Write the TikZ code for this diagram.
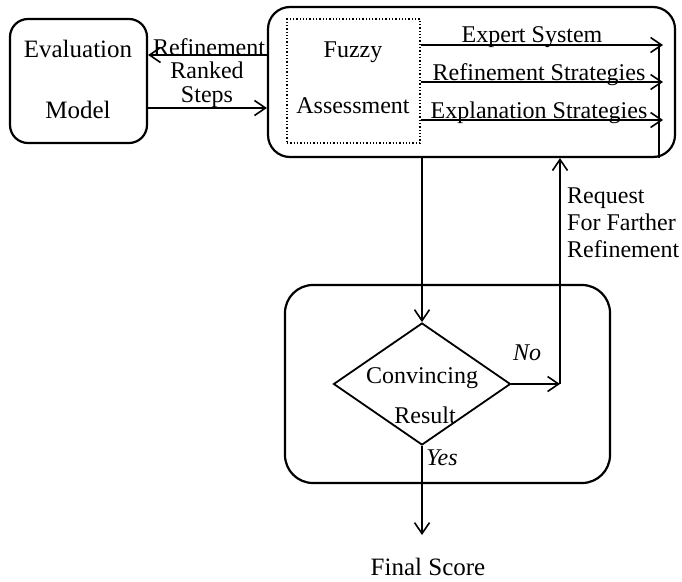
\documentclass[tikz,border=0pt]{standalone}
\usepackage{fontspec}
\setmainfont{Liberation Serif}
\usetikzlibrary{arrows.meta,shapes.geometric}
\begin{document}
\begin{tikzpicture}[x=1pt,y=-1pt,
  box/.style={draw, line width=2.2pt, inner sep=0pt},
  lbl/.style={font=\fontsize{24}{28}\selectfont, inner sep=0pt, anchor=base},
  biglbl/.style={lbl, font=\fontsize{25}{29}\selectfont},
  flow/.style={line width=1.6pt, -{Straight Barb[length=11pt,width=15pt]}},
  plain/.style={line width=1.6pt},
]
\useasboundingbox (0,0) rectangle (682,581);

% boxes
\node[box, rounded corners=18pt, minimum width=137pt, minimum height=124pt] (eval) at (78.5,81) {};
\node[box, rounded corners=22pt, minimum width=407pt, minimum height=150pt] (top) at (471.5,82) {};
\node[draw, dotted, line width=1.3pt, inner sep=0pt, minimum width=133pt, minimum height=124pt] (fz) at (353.5,81) {};
\node[box, rounded corners=28pt, minimum width=325pt, minimum height=198pt] (bot) at (447.5,384) {};
\node[draw, diamond, line width=1.8pt, inner sep=0pt, minimum width=177pt, minimum height=122pt] (dia) at (422,384) {};

% texts
\node[biglbl] (tEval) at (78,57) {Evaluation};
\node[biglbl] (tModel) at (78,118) {Model};
\node[lbl] (tRef) at (209,55.5) {Refinement};
\node[lbl] (tRank) at (207,78.5) {Ranked};
\node[lbl] (tSteps) at (207,102) {Steps};
\node[lbl] (tFuzzy) at (353,57) {Fuzzy};
\node[lbl] (tAss) at (353,113) {Assessment};
\node[lbl] (tExp) at (532,42) {Expert System};
\node[lbl] (tRS) at (539,80) {Refinement Strategies};
\node[lbl] (tES) at (539,118) {Explanation Strategies};
\node[lbl] (tConv) at (422,383) {Convincing};
\node[lbl] (tRes) at (425,423) {Result};
\node[lbl, font=\fontsize{24}{28}\selectfont\itshape] (tNo) at (527,360) {No};
\node[lbl, font=\fontsize{24}{28}\selectfont\itshape] (tYes) at (442,465) {Yes};
\node[lbl, anchor=base west] (tReq1) at (567,203) {Request};
\node[lbl, anchor=base west] (tReq2) at (567,230) {For Farther};
\node[lbl, anchor=base west] (tReq3) at (567,257) {Refinement};
\node[biglbl] (tFinal) at (428,575) {Final Score};

% connector end points
\coordinate (refStart) at (268,55);
\coordinate (stepStart) at (147,108);
\coordinate (tip1) at (663,45);
\coordinate (tip2) at (663,82);
\coordinate (tip3) at (663,120);
\coordinate (rail) at (659,45);
\coordinate (noJoin) at (560,384);
\coordinate (fin) at (422,535);

% connectors
\draw[flow] (refStart) -- (refStart -| eval.east);
\draw[flow] (stepStart) -- (stepStart -| top.west);
\draw[flow] (tip1 -| fz.east) -- (tip1);
\draw[flow] (tip2 -| fz.east) -- (tip2);
\draw[flow] (tip3 -| fz.east) -- (tip3);
\draw[plain] (rail) -- (rail |- top.south);
\draw[flow] (dia.north |- top.south) -- (dia.north);
\draw[flow] (dia.east) -- (noJoin);
\draw[flow] (noJoin) -- (noJoin |- top.south);
\draw[flow] (dia.south) -- (fin);
\end{tikzpicture}
\end{document}
